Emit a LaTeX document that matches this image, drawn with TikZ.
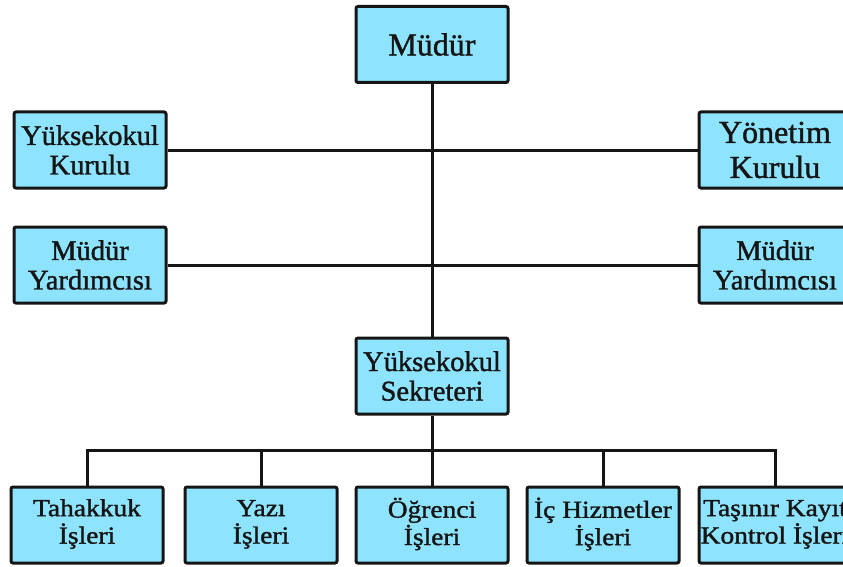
\documentclass[tikz,border=0pt]{standalone}
\usepackage{fontspec}
\usepackage{graphicx}
\newfontfamily\boxfont{Liberation Serif}[FakeBold=1.3]
\definecolor{boxfill}{HTML}{8EE4FF}
\definecolor{ink}{HTML}{151515}
\newcommand\widepair[2]{\scalebox{1.12}[1]{\begin{tabular}{@{}c@{}}#1\\#2\end{tabular}}}
\tikzset{
  unit/.style={draw=ink, line width=3pt, fill=boxfill, rounded corners=2pt,
    minimum width=152pt, minimum height=76pt, inner sep=0pt, align=center,
    text=ink},
  bigtext/.style={font=\boxfont\fontsize{32}{35}\selectfont},
  midtext/.style={font=\boxfont\fontsize{28.5}{29.5}\selectfont},
  smalltext/.style={font=\boxfont\fontsize{24.5}{24}\selectfont},
  conn/.style={draw=ink, line width=3pt}
}
\begin{document}
\begin{tikzpicture}[x=1pt,y=-1pt]
\useasboundingbox (0,0) rectangle (843,567);
\node[unit,bigtext] (mud) at (432,44.5) {Müdür};
\node[unit,midtext] (yk) at (90,150) {Yüksekokul\\Kurulu};
\node[unit,bigtext] (yon) at (775,150) {Yönetim\\Kurulu};
\node[unit,midtext] (my1) at (90,265) {Müdür\\Yardımcısı};
\node[unit,midtext] (my2) at (775,265) {Müdür\\Yardımcısı};
\node[unit,midtext] (sek) at (432,376) {Yüksekokul\\Sekreteri};
\node[unit,smalltext] (tah) at (87,525) {\widepair{Tahakkuk}{İşleri}};
\node[unit,smalltext] (yaz) at (261,525) {\widepair{Yazı}{İşleri}};
\node[unit,smalltext] (ogr) at (432,525) {\widepair{Öğrenci}{İşleri}};
\node[unit,smalltext] (ich) at (603,525) {\widepair{İç Hizmetler}{İşleri}};
\node[unit,smalltext] (tas) at (775,525) {\widepair{Taşınır Kayıt}{Kontrol İşleri}};
\coordinate (bus) at (432,450);
\draw[conn] (mud.south) -- (sek.north);
\draw[conn] (yk.east) -- (yon.west);
\draw[conn] (my1.east) -- (my2.west);
\draw[conn] (sek.south) -- (bus);
\foreach \n in {tah,yaz,ogr,ich,tas} \draw[conn] (\n.north) |- (bus);
\end{tikzpicture}
\end{document}
